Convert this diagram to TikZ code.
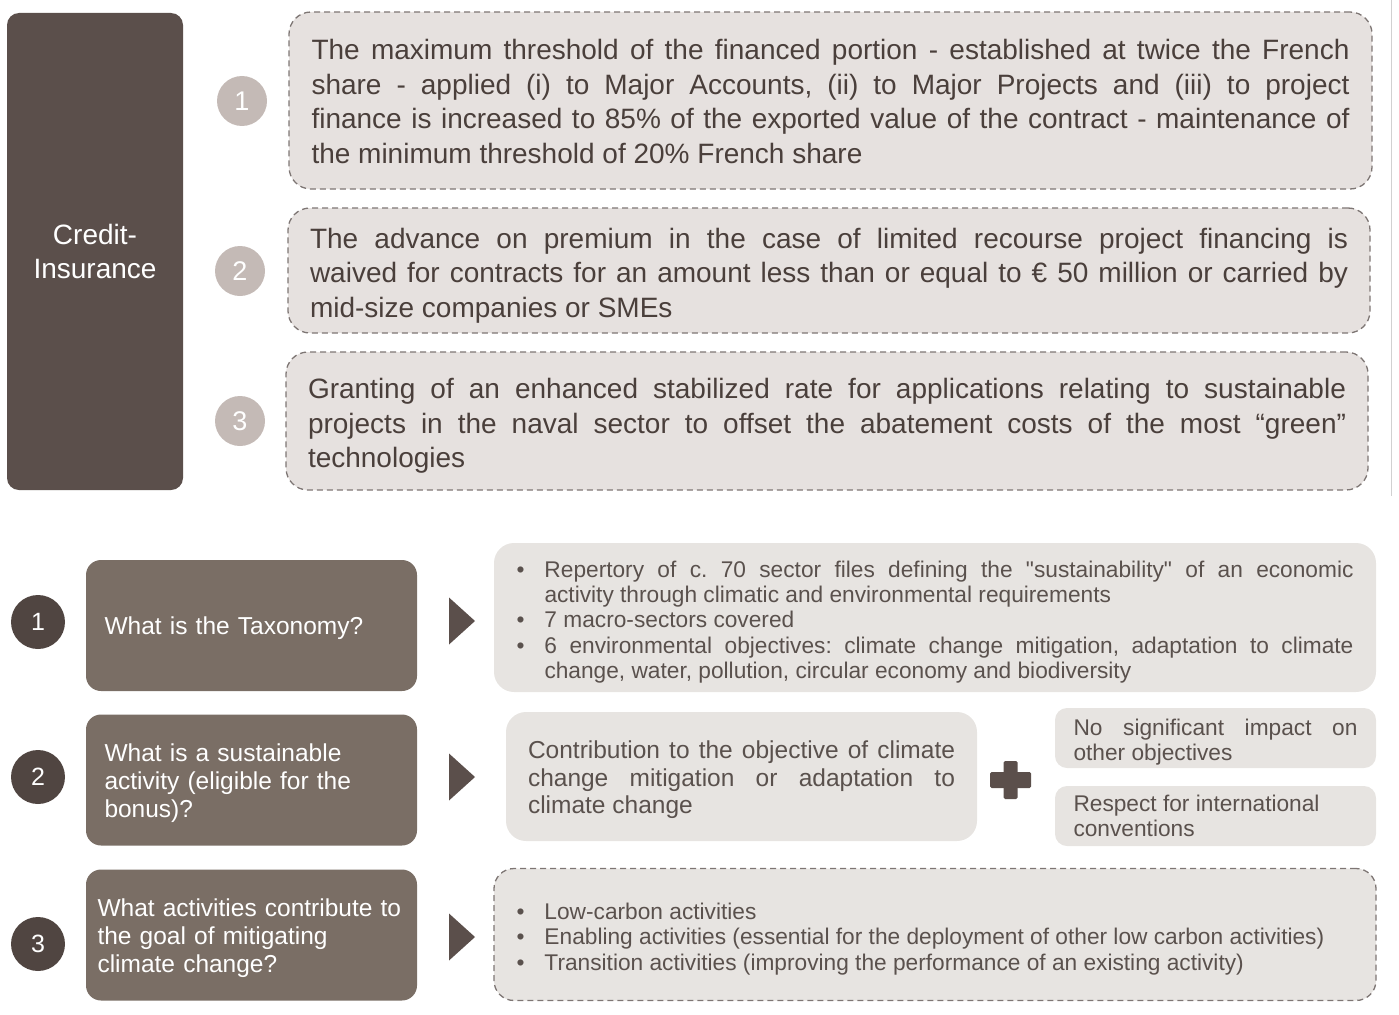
\documentclass[tikz,border=0pt]{standalone}
\usepackage{fontspec}
\setmainfont{Liberation Sans}
\usetikzlibrary{shapes.geometric}

\definecolor{darkbrown}{HTML}{5B4F4B}
\definecolor{midbrown}{HTML}{7A6E65}
\definecolor{dotbrown}{HTML}{504541}
\definecolor{dotgrey}{HTML}{C4BAB6}
\definecolor{boxfill}{HTML}{E6E1DF}
\definecolor{panelfill}{HTML}{E7E4E1}
\definecolor{dashgrey}{HTML}{7E7674}
\definecolor{bodytext}{HTML}{4A3F3B}
\definecolor{softtext}{HTML}{5A514D}

% bullet line with hanging indent
\newcommand{\bul}{\par\noindent\hangindent=28pt\hangafter=1\makebox[28pt][l]{•}}
% pushes the text block of a node a little downwards
\newcommand{\sinktext}[1]{\par\vspace{-#1}}

\begin{document}
\begin{tikzpicture}[x=1pt, y=-1pt]
      \tikzstyle{heading} = [rectangle, rounded corners=12pt, fill=darkbrown, text=white, minimum width=176pt, minimum height=477pt, align=center, font=\fontsize{28}{34}\selectfont]
      \tikzstyle{measure} = [rectangle, rounded corners=22pt, draw=dashgrey, line width=1.3pt, dash pattern=on 6pt off 4pt, fill=boxfill, text=bodytext, inner xsep=0pt, align=justify, text width=1038pt, font=\fontsize{28}{34.7}\selectfont\frenchspacing]
      \tikzstyle{greydot} = [circle, fill=dotgrey, text=white, minimum size=50pt, inner sep=0pt, font=\fontsize{27}{27}\selectfont]
      \tikzstyle{browndot} = [circle, fill=dotbrown, text=white, minimum size=54pt, inner sep=0pt, font=\fontsize{25}{25}\selectfont]
      \tikzstyle{question} = [rectangle, rounded corners=15pt, fill=midbrown, text=white, minimum width=331pt, minimum height=131pt, align=left, font=\fontsize{24.5}{28}\selectfont]
      \tikzstyle{pointer} = [isosceles triangle, isosceles triangle stretches, fill=darkbrown, minimum width=47pt, minimum height=26pt, inner sep=0pt, outer sep=0pt, anchor=lower side]
      \tikzstyle{answer} = [rectangle, rounded corners=20pt, fill=panelfill, text=softtext, align=justify, font=\fontsize{22.7}{25.3}\selectfont\frenchspacing]
      \tikzstyle{plusbar} = [rectangle, rounded corners=1.5pt, fill=darkbrown, inner sep=0pt]

      \useasboundingbox (0,0) rectangle (1399,1014);

      % credit-insurance block
      \path[] node[heading] (credit) at (95,251.5) {Credit-\\Insurance};
      \path[] node[measure, minimum width=1083pt, minimum height=177pt] (M-1) at (830.5,100.5)
        {The maximum threshold of the financed portion - established at twice the French \linebreak
         share - applied (i) to Major Accounts, (ii) to Major Projects and (iii) to project \linebreak
         finance is increased to 85\% of the exported value of the contract - maintenance of \linebreak
         the minimum threshold of 20\% French share\sinktext{2pt}};
      \path[] node[measure, minimum width=1082pt, minimum height=125pt] (M-2) at (829,270.5)
        {The advance on premium in the case of limited recourse project financing is \linebreak
         waived for contracts for an amount less than or equal to € 50 million or carried by \linebreak
         mid-size companies or SMEs\sinktext{10pt}};
      \path[] node[measure, minimum width=1082pt, minimum height=138pt] (M-3) at (827,421)
        {Granting of an enhanced stabilized rate for applications relating to sustainable \linebreak
         projects in the naval sector to offset the abatement costs of the most “green” \linebreak
         technologies\sinktext{10pt}};

      \foreach \n/\x/\y in {1/242/101, 2/240/271, 3/240/421}
      {
        \node[greydot] (G-\n) at (\x,\y) {\n};
      }

      \coordinate (rule-top) at (1391,0);
      \coordinate (rule-bot) at (1391,496);
      \draw[line width=1pt, black!18] (rule-top) -- (rule-bot);

      % taxonomy block
      \foreach \n/\y in {1/622, 2/777, 3/944}
      {
        \node[browndot] (D-\n) at (38,\y) {\n};
      }
      \path[] node[question, text width=294pt] (Q-1) at (251.5,625.5) {What is the Taxonomy?\sinktext{7pt}};
      \path[] node[question, text width=294pt] (Q-2) at (251.5,780)
        {What is a sustainable\\activity (eligible for the\\bonus)?\sinktext{6pt}};
      \path[] node[question, text width=308pt] (Q-3) at (251.5,935)
        {What activities contribute to\\the goal of mitigating\\climate change?\sinktext{7pt}};

      \foreach \n/\y in {1/621, 2/777, 3/937}
      {
        \node[pointer] (P-\n) at (449,\y) {};
      }

      \path[] node[answer, text width=837pt, minimum width=882pt, minimum height=149pt] (A-1) at (935,617.5)
        {\bul Repertory of c. 70 sector files defining the \textquotedbl sustainability\textquotedbl\ of an economic \linebreak
              activity through climatic and environmental requirements
         \bul 7 macro-sectors covered
         \bul 6 environmental objectives: climate change mitigation, adaptation to climate \linebreak
              change, water, pollution, circular economy and biodiversity\par};

      \path[] node[answer, text width=427pt, minimum width=471pt, minimum height=129pt, font=\fontsize{24.5}{27.5}\selectfont] (A-2) at (741.5,776.5)
        {Contribution to the objective of climate \linebreak
         change mitigation or adaptation to \linebreak
         climate change\sinktext{7pt}};
      \node[plusbar, minimum width=41pt, minimum height=16pt] (plus-h) at (1010.5,780) {};
      \node[plusbar, minimum width=14pt, minimum height=38pt] (plus-v) at (1010.5,780) {};
      \path[] node[answer, rounded corners=12pt, text width=284pt, minimum width=321pt, minimum height=60pt] (N-1) at (1215.5,738)
        {No significant impact on \linebreak other objectives\sinktext{8pt}};
      \path[] node[answer, rounded corners=12pt, text width=284pt, minimum width=321pt, minimum height=60pt] (N-2) at (1215.5,816)
        {Respect for international \\ conventions};

      \path[] node[answer, draw=dashgrey, line width=1.3pt, dash pattern=on 6pt off 4pt, text width=837pt, minimum width=882pt, minimum height=132pt] (A-3) at (935,934.5)
        {\bul Low-carbon activities
         \bul Enabling activities (essential for the deployment of other low carbon activities)
         \bul Transition activities (improving the performance of an existing activity)\par};
\end{tikzpicture}
\end{document}
